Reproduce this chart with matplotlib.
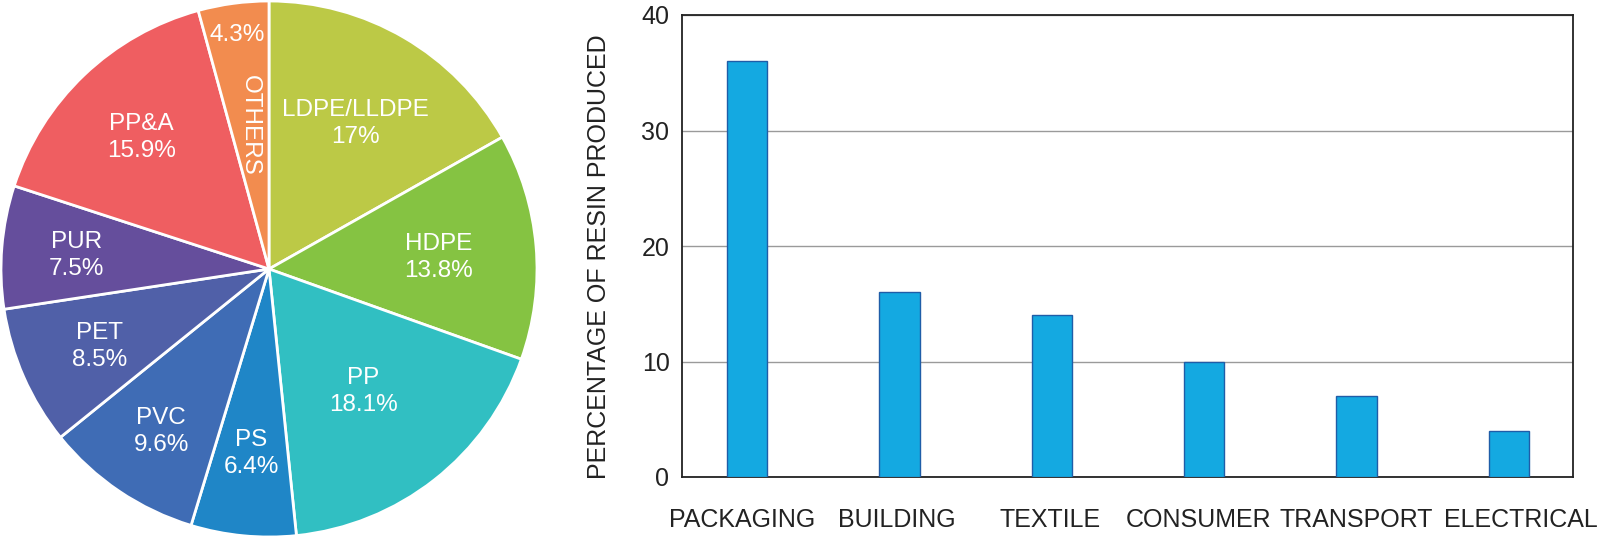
import numpy as np
import matplotlib
matplotlib.use('Agg')
import matplotlib.pyplot as plt
from matplotlib.transforms import ScaledTranslation

# pie data (share of resin produced by type, %)
resins = ['LDPE/LLDPE', 'HDPE', 'PP', 'PS', 'PVC', 'PET', 'PUR', 'PP&A', 'OTHERS']
shares = [17, 13.8, 18.1, 6.4, 9.6, 8.5, 7.5, 15.9, 4.3]
share_text = ['17%', '13.8%', '18.1%', '6.4%', '9.6%', '8.5%', '7.5%', '15.9%', '4.3%']
pie_colors = ['#BCC946', '#85C342', '#31BFC2', '#1F86C7', '#3F6CB5',
              '#5060A8', '#654E9C', '#EF5E61', '#F28C4F']

# bar data (use by market sector)
sectors = ['PACKAGING', 'BUILDING', 'TEXTILE', 'CONSUMER', 'TRANSPORT', 'ELECTRICAL']
percent = [36, 16, 14, 10, 7, 4]

plt.rcParams['font.family'] = ['Liberation Sans', 'DejaVu Sans']

W, H = 1600, 538
fig = plt.figure(figsize=(W / 100, H / 100), dpi=100)

# ---- pie
axp = fig.add_axes([1 / W, 1 / H, 536 / W, 536 / H])
wedges, _ = axp.pie(shares, colors=pie_colors, startangle=90, counterclock=False,
                    radius=1, wedgeprops=dict(edgecolor='white', linewidth=2.0))
axp.set_xlim(-1, 1)
axp.set_ylim(-1, 1)
axp.set_aspect('equal')
axp.axis('off')

label_r = [0.64, 0.635, 0.57, 0.68, 0.72, 0.69, 0.72, 0.69]
for w, name, txt, r in zip(wedges[:-1], resins[:-1], share_text[:-1], label_r):
    a = np.deg2rad((w.theta1 + w.theta2) / 2)
    axp.text(r * np.cos(a), r * np.sin(a) - 0.01, name + '\n' + txt, color='white',
             fontsize=17.5, ha='center', va='center', linespacing=1.3)

w = wedges[-1]
a = np.deg2rad((w.theta1 + w.theta2) / 2)
axp.text(0.54 * np.cos(a), 0.54 * np.sin(a), resins[-1], color='white', fontsize=17.5,
         rotation=-90, ha='center', va='center')
axp.text(0.88 * np.cos(a), 0.88 * np.sin(a), share_text[-1], color='white', fontsize=17.5,
         ha='center', va='center')

# ---- bars
axb = fig.add_axes([682 / W, 61 / H, 891 / W, 462 / H])
x = np.arange(len(sectors))
axb.bar(x, percent, width=0.265, color='#14A9E1', edgecolor='#1F5DA8',
        linewidth=1.0, zorder=3)
axb.set_xlim(-0.426, 5.42)
axb.set_ylim(0, 40)
axb.set_yticks([0, 10, 20, 30, 40])
axb.yaxis.grid(True, color='#9a9a9a', linewidth=1.0, zorder=0)
axb.set_xticks(x)
axb.set_xticklabels(sectors)
axb.tick_params(axis='x', length=0, pad=22, labelsize=18, colors='#222222')
axb.tick_params(axis='y', length=0, pad=9, labelsize=18, colors='#222222')
for s in axb.spines.values():
    s.set_linewidth(1.3)
    s.set_color('#222222')
axb.set_ylabel('PERCENTAGE OF RESIN PRODUCED', fontsize=18, color='#222222')
axb.yaxis.set_label_coords(-0.080, 0.476)

# labels sit a little off-centre in the original, nudge the crowded ones (pixels)
nudge = [-5, -3, -2, -6, 0, 12]
for lab, dx in zip(axb.get_xticklabels(), nudge):
    lab.set_transform(lab.get_transform() + ScaledTranslation(dx / 100, 0, fig.dpi_scale_trans))

fig.savefig('out.png', dpi=100)
